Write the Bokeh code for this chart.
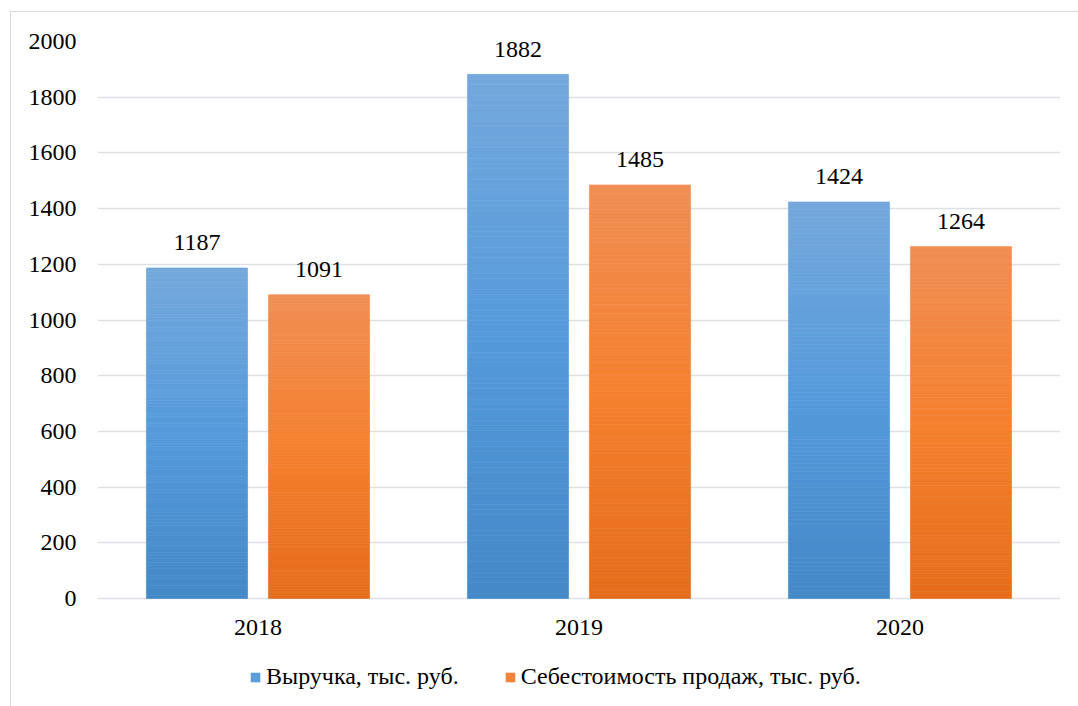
from bokeh.plotting import figure
from bokeh.models import ColumnDataSource, Legend, LegendItem, FactorRange
from bokeh.core.properties import value
from bokeh.transform import dodge
from bokeh.embed import file_html
from bokeh.resources import INLINE

years = ["2018", "2019", "2020"]
revenue = [1187, 1882, 1424]
cost = [1091, 1485, 1264]
series_names = ["Выручка, тыс. руб.", "Себестоимость продаж, тыс. руб."]
y_ticks = [0, 200, 400, 600, 800, 1000, 1200, 1400, 1600, 1800, 2000]

FONT = "Times New Roman"

# gradient stops (top, middle, bottom)
blue_stops = [(0x74, 0xa8, 0xdc), (0x55, 0x9a, 0xdb), (0x45, 0x88, 0xc7)]
orange_stops = [(0xf0, 0x8e, 0x54), (0xf5, 0x80, 0x2e), (0xe5, 0x6c, 0x1b)]


def grad_color(stops, t):
    # t: 0 = top, 1 = bottom
    if t <= 0.5:
        a, b, f = stops[0], stops[1], t / 0.5
    else:
        a, b, f = stops[1], stops[2], (t - 0.5) / 0.5
    c = [round(a[i] + (b[i] - a[i]) * f) for i in range(3)]
    return "#%02x%02x%02x" % tuple(c)


# frame runs from top gridline down to figure bottom; y scale 557 px per 2000
FRAME_H = 666
Y_TOP = 2000
Y_BOTTOM = Y_TOP - FRAME_H * 2000 / 557

N = 100
p = figure(
    x_range=FactorRange(*years, range_padding=0.0),
    y_range=(Y_BOTTOM, Y_TOP),
    width=1068, height=695,
    output_backend="svg", toolbar_location=None,
    min_border_left=86, min_border_right=19, min_border_top=29, min_border_bottom=0,
)
p.margin = (11, 0, 0, 10)
p.styles = {"border-left": "1px solid #d9d9d9", "border-top": "1px solid #d9d9d9"}
p.outline_line_color = None
p.background_fill_color = "white"
p.border_fill_color = "white"
p.xaxis.visible = False

legend_items = []
for vals, stops, off, name in [(revenue, blue_stops, -0.19, series_names[0]),
                               (cost, orange_stops, 0.19, series_names[1])]:
    xs, bottoms, tops, colors = [], [], [], []
    for yr, v in zip(years, vals):
        for i in range(N):
            xs.append(yr)
            bottoms.append(v * i / N)
            tops.append(v * (i + 1) / N)
            colors.append(grad_color(stops, 1 - (i + 0.5) / N))
    src = ColumnDataSource(dict(x=xs, bottom=bottoms, top=tops, color=colors))
    p.vbar(x=dodge("x", off, range=p.x_range), bottom="bottom", top="top", width=0.315,
           source=src, fill_color="color", line_color="color", line_width=0.6)
    lsrc = ColumnDataSource(dict(x=years, y=vals, t=[str(v) for v in vals]))
    p.text(x=dodge("x", off, range=p.x_range), y="y", text="t", source=lsrc,
           text_align="center", text_baseline="alphabetic", y_offset=-25,
           text_font=value(FONT), text_font_size="24px", text_color="#000000")
    # legend proxy glyph (outside visible range)
    r = p.vbar(x=[years[0]], bottom=[-6000], top=[-5000], width=0.1,
               fill_color=grad_color(stops, 0.4), line_color=None)
    legend_items.append(LegendItem(label=name, renderers=[r]))

# category labels under the zero line
csrc = ColumnDataSource(dict(x=years, y=[0] * len(years), t=years))
p.text(x="x", y="y", text="t", source=csrc, text_align="center", text_baseline="alphabetic",
       y_offset=29, text_font=value(FONT), text_font_size="24px", text_color="#000000")

p.xgrid.grid_line_color = None
p.ygrid.grid_line_color = "#dde1e6"
p.ygrid.grid_line_width = 1.5
p.yaxis.ticker = y_ticks
p.yaxis.axis_line_color = None
p.yaxis.major_tick_line_color = None
p.yaxis.minor_tick_line_color = None
p.yaxis.major_label_standoff = 15
p.yaxis.major_label_text_font = FONT
p.yaxis.major_label_text_font_size = "24px"
p.yaxis.major_label_text_color = "#000000"

legend = Legend(items=legend_items, orientation="horizontal", location=(152, 17),
                label_text_font=FONT, label_text_font_size="24px", label_text_color="#000000",
                glyph_width=12, glyph_height=12, label_standoff=5, spacing=45,
                border_line_color=None, background_fill_alpha=0, padding=0, margin=0)
p.add_layout(legend, "center")

open("out.html", "w").write(file_html(p, INLINE))
